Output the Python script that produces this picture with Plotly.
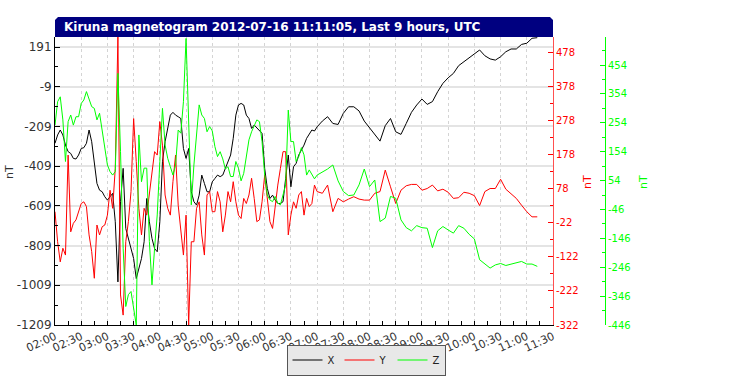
import plotly.graph_objects as go

# ---------------- data ----------------
DATE = "2012-07-16 "
times = [
    "02:00", "02:03", "02:06", "02:09", "02:12", "02:15", "02:18", "02:21", "02:24", "02:27",
    "02:30", "02:33", "02:36", "02:39", "02:42", "02:45", "02:48", "02:51", "02:54", "02:57",
    "03:00", "03:03", "03:06", "03:09", "03:12", "03:15", "03:18", "03:21", "03:24", "03:27",
    "03:30", "03:33", "03:36", "03:39", "03:42", "03:45", "03:48", "03:51", "03:54", "03:57",
    "04:00", "04:03", "04:06", "04:09", "04:12", "04:15", "04:18", "04:21", "04:24", "04:27",
    "04:30", "04:33", "04:36", "04:39", "04:42", "04:45", "04:48", "04:51", "04:54", "04:57",
    "05:00", "05:03", "05:06", "05:09", "05:12", "05:15", "05:18", "05:21", "05:24", "05:27",
    "05:30", "05:33", "05:36", "05:39", "05:42", "05:45", "05:48", "05:51", "05:54", "05:57",
    "06:00", "06:03", "06:06", "06:09", "06:12", "06:15", "06:18", "06:21", "06:24", "06:27",
    "06:30", "06:33", "06:36", "06:39", "06:42", "06:45", "06:48", "06:51", "06:54", "06:57",
    "07:00",
    "07:06", "07:12", "07:18", "07:24", "07:30", "07:36", "07:42", "07:48", "07:54", "08:00",
    "08:06", "08:12", "08:18", "08:24", "08:30", "08:36", "08:42", "08:48", "08:54", "09:00",
    "09:06", "09:12", "09:18", "09:24", "09:30", "09:36", "09:42", "09:48", "09:54", "10:00",
    "10:06", "10:12", "10:18", "10:24", "10:30", "10:36", "10:42", "10:48", "10:54", "11:00",
    "11:06", "11:12",
]

x_nT = [
    -294, -252, -227, -252, -303, -336, -345, -370, -373, -353,
    -320, -316, -294, -227, -286, -387, -496, -530, -538, -563,
    -580, -563, -546, -689, -992, -588, -420, -723, -773, -824,
    -874, -975, -924, -874, -790, -572, -689, -773, -824, -840,
    -689, -387, -286, -219, -152, -138, -152, -160, -169, -320,
    -370, -320, -538, -588, -605, -555, -454, -496, -538, -538,
    -488, -471, -454, -462, -454, -420, -387, -353, -269, -152,
    -101, -93, -101, -152, -169, -219, -202, -216, -227, -244,
    -420, -521, -572, -555, -580, -597, -597, -588, -471, -353,
    -513, -412, -395, -353, -328, -303, -269, -249, -227, -232,
    -211,
    -182, -160, -194, -199, -143, -110, -110, -131, -182, -216,
    -244, -283, -205, -169, -236, -249, -194, -138, -101, -71,
    -98, -84, -34, 8, 36, 58, 97, 117, 137, 159,
    176, 147, 131, 125, 142, 167, 181, 181, 204, 210,
    235, 238,
]

y_nT = [
    10, -78, -137, -97, -117, 176, -49, -24, -14, 10,
    34, 39, 25, -58, -107, -185, -29, -58, -34, -29,
    0, 73, 20, 137, 522, -234, -293, -78, -19, 69,
    283, 157, 20, -58, 20, 0, 59, 117, 186, 176,
    274, 205, 59, 20, 0, 98, 176, 29, -39, -117,
    0, -322, -78, -78, 20, 39, -58, -117, 59, 69,
    10, 10, 69, 39, -49, 0, 69, 39, 98, 39,
    0, -10, 49, 34, 59, 108, 49, -19, -14, 39,
    117, 49, -19, -39, 29, 88, 137, 186, 186, -58,
    0, 39, 20, 59, 69, 0, 49, 25, 34, 88,
    69,
    64, 88, 10, 49, 39, 47, 54, 47, 44, 44,
    64, 69, 132, 83, 34, 73, 86, 90, 90, 73,
    78, 88, 71, 76, 67, 49, 51, 67, 64, 57,
    28, 69, 78, 78, 105, 76, 61, 49, 29, 10,
    -5, -5,
]

z_nT = [
    246, 327, 344, 264, 120, 258, 281, 246, 275, 275,
    321, 333, 362, 333, 310, 304, 264, 287, 223, 172,
    108, 85, 73, 85, 425, 154, -180, -382, -341, -330,
    -388, -446, 212, 50, 97, 97, -157, -307, -180, -65,
    120, 304, 177, 131, 102, 73, 108, 229, 218, 327,
    546, 270, -30, 108, 206, 316, 281, 269, 223, 241,
    226, 172, 137, 154, 129, 94, 102, 68, 68, 120,
    97, 53, 79, 137, 195, 223, 241, 264, 258, 189,
    73, 4, -13, -19, -1, -24, -30, 4, 39, 298,
    189, 189, 120, 137, 168, 143, 73, 91, 73, 60,
    73,
    83, 94, 108, 53, 16, 2, 4, 39, 94, 33,
    56, -88, -76, -1, -7, -82, -109, -120, -102, -109,
    -111, -178, -120, -105, -117, -128, -102, -111, -132, -148,
    -220, -235, -249, -238, -233, -240, -235, -232, -226, -235,
    -235, -243,
]

# tick labels as printed on the three value axes
x_ticks = [191, -9, -209, -409, -609, -809, -1009, -1209]
y_ticks = [478, 378, 278, 178, 78, -22, -122, -222, -322]
z_ticks = [454, 354, 254, 154, 54, -46, -146, -246, -346, -446]

series_names = ["X", "Y", "Z"]
title_text = "Kiruna magnetogram 2012-07-16 11:11:05, Last 9 hours, UTC"

# ---------------- figure ----------------
W, H = 732, 389
ML, MR, MT, MB = 55, 20, 37, 64
PW = W - ML - MR          # 657 px paper width
PH = H - MT - MB          # 288 px paper height
DX = 498 / PW             # x-axis domain end (red axis position)

FONT = "DejaVu Sans"
RED = "#ff0000"
GREEN = "#00ff00"

tx = [DATE + t for t in times]

fig = go.Figure()
fig.add_trace(go.Scatter(x=tx, y=x_nT, name=series_names[0], mode="lines",
                         line=dict(color="#000000", width=1), yaxis="y"))
fig.add_trace(go.Scatter(x=tx, y=y_nT, name=series_names[1], mode="lines",
                         line=dict(color=RED, width=1), yaxis="y2"))
fig.add_trace(go.Scatter(x=tx, y=z_nT, name=series_names[2], mode="lines",
                         line=dict(color=GREEN, width=1), yaxis="y3"))

fig.update_layout(
    width=W, height=H,
    margin=dict(l=ML, r=MR, t=MT, b=MB, pad=0, autoexpand=False),
    paper_bgcolor="white", plot_bgcolor="white",
    font=dict(family=FONT, size=11, color="#333333"),
    xaxis=dict(
        domain=[0, DX], type="date", automargin=False,
        range=[DATE + "02:00", DATE + "11:30"],
        tick0=DATE + "02:00", dtick=1800000, tickformat="%H:%M",
        tickangle=-25, tickfont=dict(family=FONT, size=11, color="#333333"),
        ticks="inside", ticklen=4, tickcolor="#000000",
        minor=dict(dtick=900000, ticks="inside", ticklen=4, tickcolor="#000000", showgrid=False),
        showline=True, linecolor="#000000", linewidth=1,
        showgrid=True, gridcolor="#d4d4d4", griddash="dot", gridwidth=1,
        zeroline=False, fixedrange=True,
    ),
    yaxis=dict(
        range=[-1209, 241.4], tickmode="array", tickvals=x_ticks,
        ticktext=[str(v) for v in x_ticks], automargin=False,
        ticks="inside", ticklen=5, tickcolor="#000000",
        minor=dict(tick0=191, dtick=100, ticks="inside", ticklen=3, tickcolor="#000000", showgrid=False),
        tickfont=dict(family=FONT, size=12, color="#333333"),
        showline=True, linecolor="#000000", linewidth=1,
        showgrid=True, gridcolor="#e4e4e4", gridwidth=2,
        zeroline=False, fixedrange=True,
    ),
    yaxis2=dict(
        overlaying="y", side="right", anchor="x", automargin=False,
        range=[-322, 522], tickmode="array", tickvals=y_ticks,
        ticktext=[str(v) for v in y_ticks],
        ticks="inside", ticklen=5, tickcolor=RED,
        minor=dict(tick0=478, dtick=50, ticks="inside", ticklen=3, tickcolor=RED, showgrid=False),
        tickfont=dict(family=FONT, size=10, color=RED),
        showline=True, linecolor="#ff5050", linewidth=1,
        showgrid=False, zeroline=False, fixedrange=True,
    ),
    yaxis3=dict(
        overlaying="y", side="right", anchor="free", position=550 / PW, automargin=False,
        range=[-446, 551], tickmode="array", tickvals=z_ticks,
        ticktext=[str(v) for v in z_ticks],
        ticks="inside", ticklen=5, tickcolor=GREEN,
        minor=dict(tick0=454, dtick=50, ticks="inside", ticklen=3, tickcolor=GREEN, showgrid=False),
        tickfont=dict(family=FONT, size=10, color=GREEN),
        showline=True, linecolor=GREEN, linewidth=1,
        showgrid=False, zeroline=False, fixedrange=True,
    ),
    showlegend=True,
    legend=dict(
        orientation="h", xref="container", yref="container",
        x=366 / W, xanchor="center", y=(H - 360) / H, yanchor="middle",
        bgcolor="#e8e8e8", bordercolor="#555555", borderwidth=1,
        font=dict(family=FONT, size=10, color="#222222"),
        itemwidth=30, tracegroupgap=0,
    ),
)

# title bar (navy, chamfered top corners)
cx, cy = 3 / PW, 3 / PH
ytop = 1 + 20 / PH
fig.add_shape(
    type="path", xref="paper", yref="paper",
    path=f"M 0,1 L 0,{ytop - cy} L {cx},{ytop} L {DX - cx},{ytop} L {DX},{ytop - cy} L {DX},1 Z",
    fillcolor="#000080", line=dict(width=0), layer="above",
)
fig.add_annotation(
    text="<b>" + title_text + "</b>", xref="paper", yref="paper",
    x=7 / PW, y=1 + 10 / PH, xanchor="left", yanchor="middle", showarrow=False,
    font=dict(family=FONT, size=12, color="white"),
)

# axis unit labels
for xpx, ypx, col in [(9, 172, "#333333"), (587, 182, RED), (643, 182, GREEN)]:
    fig.add_annotation(
        text="nT", xref="paper", yref="paper",
        x=(xpx - ML) / PW, y=(H - MB - ypx) / PH, xanchor="center", yanchor="middle",
        showarrow=False, textangle=-90,
        font=dict(family=FONT, size=11, color=col),
    )

fig.write_html(
    "out.html",
    config={"displayModeBar": False},
    post_script="document.body.style.margin='0';document.body.style.overflow='hidden';",
)
